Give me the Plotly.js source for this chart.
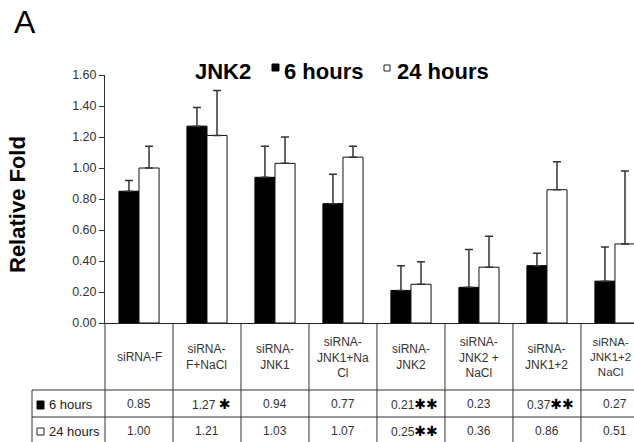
<!DOCTYPE html>
<html><head><meta charset="utf-8">
<script src="https://cdn.plot.ly/plotly-3.0.1.min.js"></script>
<style>html,body{margin:0;padding:0;background:#fff}#chart{width:634px;height:442px}</style>
</head><body><div id="chart"></div>
<script>
// ---- data ----
const categories = ['siRNA-F','siRNA-F+NaCl','siRNA-JNK1','siRNA-JNK1+NaCl','siRNA-JNK2','siRNA-JNK2 + NaCl','siRNA-JNK1+2','siRNA-JNK1+2 NaCl'];
const categoryLabels = ['siRNA-F','siRNA-<br>F+NaCl','siRNA-<br>JNK1','siRNA-<br>JNK1+Na<br>Cl','siRNA-<br>JNK2','siRNA-<br>JNK2 +<br>NaCl','siRNA-<br>JNK1+2','siRNA-<br>JNK1+2<br>NaCl'];
const values6h = [0.85, 1.27, 0.94, 0.77, 0.21, 0.23, 0.37, 0.27];
const values24h = [1.00, 1.21, 1.03, 1.07, 0.25, 0.36, 0.86, 0.51];
const err6h = [0.07, 0.12, 0.20, 0.19, 0.16, 0.245, 0.08, 0.22];
const err24h = [0.14, 0.29, 0.17, 0.07, 0.145, 0.20, 0.18, 0.47];
const sig6h = ['', '*', '', '', '**', '', '**', ''];
const sig24h = ['', '', '', '', '**', '', '', ''];
const seriesNames = ['6 hours', '24 hours'];
const yTickVals = [0, 0.2, 0.4, 0.6, 0.8, 1.0, 1.2, 1.4, 1.6];
const chartTitle = 'JNK2';
const panelLabel = 'A';
const yTitle = 'Relative Fold';

// ---- geometry helpers (pixel -> paper) ----
const L = 105, T = 75, W = 529, H = 248;
const PX = x => (x - L) / W;
const PY = y => (T + H - y) / H;
const FONT = 'Liberation Sans, Arial, sans-serif';
const zeros = values6h.map(() => 0);

const traces = [
  {type: 'bar', name: seriesNames[0], x: categories, y: values6h,
   marker: {color: '#000', line: {color: '#000', width: 1}},
   error_y: {type: 'data', symmetric: false, array: err6h, arrayminus: zeros, color: '#333', thickness: 1.5, width: 4}},
  {type: 'bar', name: seriesNames[1], x: categories, y: values24h,
   marker: {color: '#fff', line: {color: '#111', width: 1}},
   error_y: {type: 'data', symmetric: false, array: err24h, arrayminus: zeros, color: '#333', thickness: 1.5, width: 4}}
];

const shapes = [];
const lineStyle = {color: '#333', width: 1};
// table horizontal lines
[390, 417].forEach(y => shapes.push({type: 'line', xref: 'paper', yref: 'paper', x0: PX(32), x1: 1, y0: PY(y), y1: PY(y), line: lineStyle}));
// category boundaries
for (let i = 0; i < categories.length - 1; i++) {
  shapes.push({type: 'line', xref: 'x', yref: 'paper', x0: i + 0.5, x1: i + 0.5, y0: 0, y1: PY(445), line: lineStyle});
}
// y axis extension and table left border
shapes.push({type: 'line', xref: 'paper', yref: 'paper', x0: 0, x1: 0, y0: 0, y1: PY(445), line: lineStyle});
shapes.push({type: 'line', xref: 'paper', yref: 'paper', x0: PX(32), x1: PX(32), y0: PY(390), y1: PY(445), line: lineStyle});
// legend keys in table
shapes.push({type: 'rect', xref: 'paper', yref: 'paper', x0: PX(37), x1: PX(44), y0: PY(409), y1: PY(401), fillcolor: '#000', line: {color: '#000', width: 1}});
shapes.push({type: 'rect', xref: 'paper', yref: 'paper', x0: PX(37), x1: PX(44), y0: PY(435), y1: PY(428), fillcolor: '#fff', line: {color: '#222', width: 1}});
// legend keys in title
shapes.push({type: 'rect', xref: 'paper', yref: 'paper', x0: PX(272), x1: PX(279), y0: PY(71), y1: PY(64), fillcolor: '#000', line: {color: '#000', width: 1}});
shapes.push({type: 'rect', xref: 'paper', yref: 'paper', x0: PX(384), x1: PX(390), y0: PY(71), y1: PY(65), fillcolor: '#fff', line: {color: '#222', width: 1}});

const ann = [];
const P = (x, y, text, opts) => Object.assign({xref: 'paper', yref: 'paper', x: PX(x), y: PY(y), text: text, showarrow: false, xanchor: 'left', yanchor: 'middle'}, opts || {});
ann.push(P(12, 22, panelLabel, {font: {family: FONT, size: 32, color: '#000'}}));
ann.push(P(193, 71, '<b>' + chartTitle + '</b>', {font: {family: FONT, size: 22, color: '#000'}}));
ann.push(P(282, 71, '<b>' + seriesNames[0] + '</b>', {font: {family: FONT, size: 22, color: '#000'}}));
ann.push(P(395, 71, '<b>' + seriesNames[1] + '</b>', {font: {family: FONT, size: 22, color: '#000'}}));
ann.push(P(17, 205, '<b>' + yTitle + '</b>', {xanchor: 'center', textangle: -90, font: {family: FONT, size: 22, color: '#000'}}));
ann.push(P(47, 404, seriesNames[0], {font: {family: FONT, size: 13, color: '#222'}}));
ann.push(P(47, 431, seriesNames[1], {font: {family: FONT, size: 13, color: '#222'}}));

const star = s => s ? '<span style="font-family:DejaVu Sans;font-size:14px;color:#000">' + s.replace(/\*/g, '\u2731') + '</span>' : '';
const lastIdx = categories.length - 1;
categories.forEach((c, i) => {
  ann.push({xref: 'x', yref: 'paper', x: c, y: PY(357), text: categoryLabels[i], showarrow: false, xanchor: 'center', yanchor: 'middle', xshift: i === lastIdx ? -4 : 0, font: {family: FONT, size: i === lastIdx ? 11.5 : 12, color: '#333'}});
  ann.push({xref: 'x', yref: 'paper', x: c, y: PY(404), text: values6h[i].toFixed(2) + (sig6h[i] === '*' ? ' ' : '') + star(sig6h[i]), showarrow: false, xanchor: 'center', yanchor: 'middle', xshift: sig6h[i] ? 4 : 0, font: {family: FONT, size: 12, color: '#333'}});
  ann.push({xref: 'x', yref: 'paper', x: c, y: PY(431), text: values24h[i].toFixed(2) + star(sig24h[i]), showarrow: false, xanchor: 'center', yanchor: 'middle', xshift: sig24h[i] ? 4 : 0, font: {family: FONT, size: 12, color: '#333'}});
});

const layout = {
  width: 634, height: 442,
  margin: {l: L, r: 634 - L - W, t: T, b: 442 - T - H, pad: 0},
  paper_bgcolor: '#fff', plot_bgcolor: '#fff',
  font: {family: FONT, color: '#333'},
  showlegend: false,
  barmode: 'group', bargap: 0.41, bargroupgap: 0,
  xaxis: {type: 'category', range: [-0.5, 7.28], showticklabels: false, ticks: '', showline: true, linecolor: '#222', linewidth: 1, showgrid: false, zeroline: false, fixedrange: true},
  yaxis: {range: [0, 1.6], tickvals: yTickVals, tickformat: '.2f', ticks: 'outside', ticklen: 5, tickcolor: '#333', showline: true, linecolor: '#333', linewidth: 1, showgrid: false, zeroline: false, tickfont: {family: FONT, size: 12.5, color: '#333'}, fixedrange: true},
  shapes: shapes,
  annotations: ann
};

Plotly.newPlot('chart', traces, layout, {staticPlot: true, displayModeBar: false});
</script>
</body></html>
